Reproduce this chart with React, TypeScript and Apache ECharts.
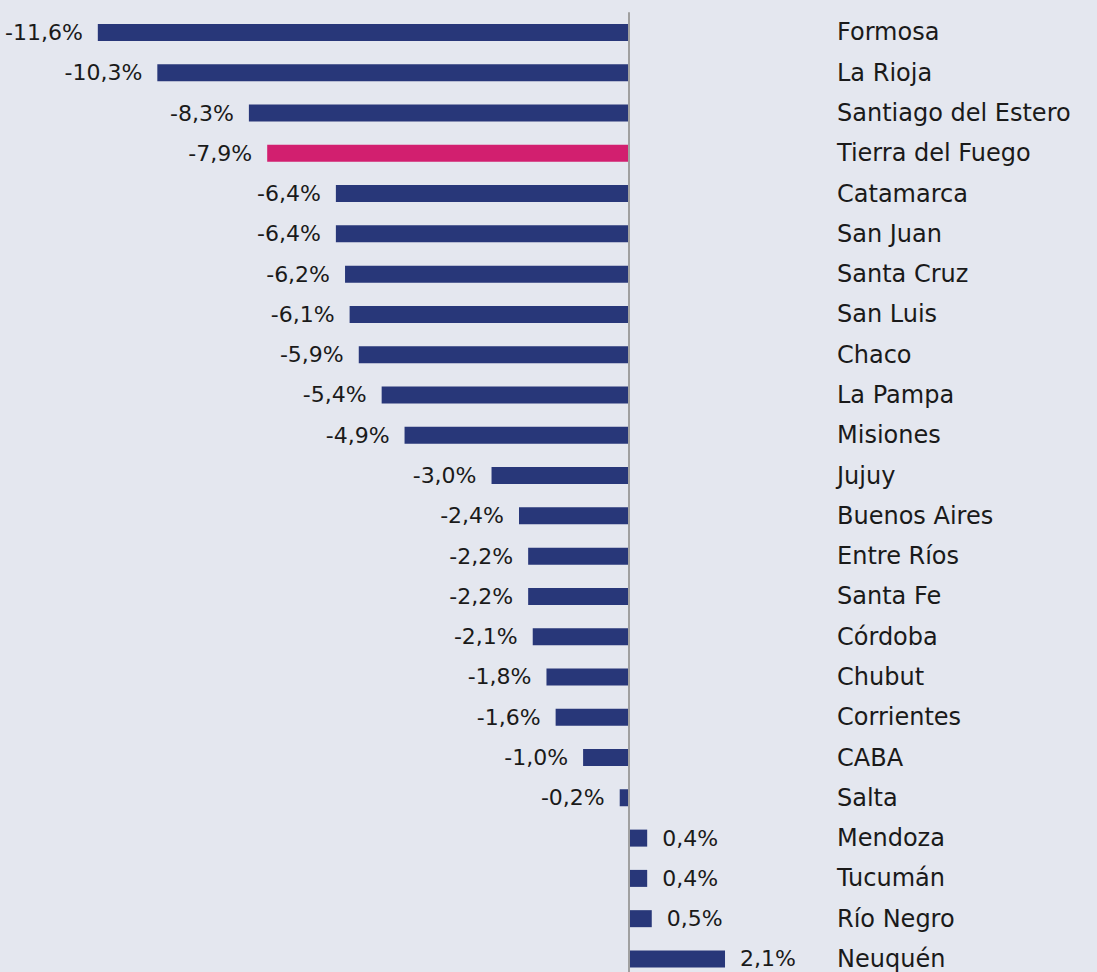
import React, { useEffect, useRef } from "react";
import * as echarts from "echarts";

const provinces = [
  "Formosa", "La Rioja", "Santiago del Estero", "Tierra del Fuego", "Catamarca",
  "San Juan", "Santa Cruz", "San Luis", "Chaco", "La Pampa", "Misiones", "Jujuy",
  "Buenos Aires", "Entre Ríos", "Santa Fe", "Córdoba", "Chubut", "Corrientes",
  "CABA", "Salta", "Mendoza", "Tucumán", "Río Negro", "Neuquén",
];
const values = [
  -11.6, -10.3, -8.3, -7.9, -6.4, -6.4, -6.2, -6.1, -5.9, -5.4, -4.9, -3.0,
  -2.4, -2.2, -2.2, -2.1, -1.8, -1.6, -1.0, -0.2, 0.4, 0.4, 0.5, 2.1,
];
const highlighted = "Tierra del Fuego";

const NAVY = "#283779";
const PINK = "#d21f6f";
const FONT = "'DejaVu Sans', sans-serif";

export default function App() {
  const ref = useRef<HTMLDivElement>(null);
  useEffect(() => {
    if (!ref.current) return;
    const chart = echarts.init(ref.current, undefined, { renderer: "svg" });
    chart.setOption({
      animation: false,
      backgroundColor: "#e4e7ef",
      grid: { left: 79.5, width: 732.5, top: 12.3, height: 966.8 },
      xAxis: {
        type: "value",
        min: -12,
        max: 4,
        show: false,
      },
      yAxis: {
        type: "category",
        data: provinces,
        inverse: true,
        position: "right",
        axisLine: { show: false },
        axisTick: { show: false },
        axisLabel: {
          margin: 25,
          color: "#1a1a1a",
          fontSize: 24,
          fontFamily: FONT,
          align: "left",
        },
      },
      series: [
        {
          type: "bar",
          barWidth: 17,
          data: values.map((v, i) => ({
            value: v,
            itemStyle: { color: provinces[i] === highlighted ? PINK : NAVY },
            label: { position: v < 0 ? "left" : "right" },
          })),
          label: {
            show: true,
            distance: 15,
            color: "#1a1a1a",
            fontSize: 22,
            fontFamily: FONT,
            formatter: (p: any) => p.value.toFixed(1).replace(".", ",") + "%",
          },
          markLine: {
            silent: true,
            symbol: "none",
            label: { show: false },
            lineStyle: { color: "#a0a0a0", width: 2, type: "solid" },
            data: [{ xAxis: 0 }],
          },
        },
      ],
    });
    return () => chart.dispose();
  }, []);
  return (
    <div
      style={{
        position: "absolute",
        left: 0,
        top: 0,
        width: 1097,
        height: 972,
        overflow: "hidden",
        background: "#e4e7ef",
      }}
    >
      <div ref={ref} style={{ width: 1097, height: 1000 }} />
    </div>
  );
}
